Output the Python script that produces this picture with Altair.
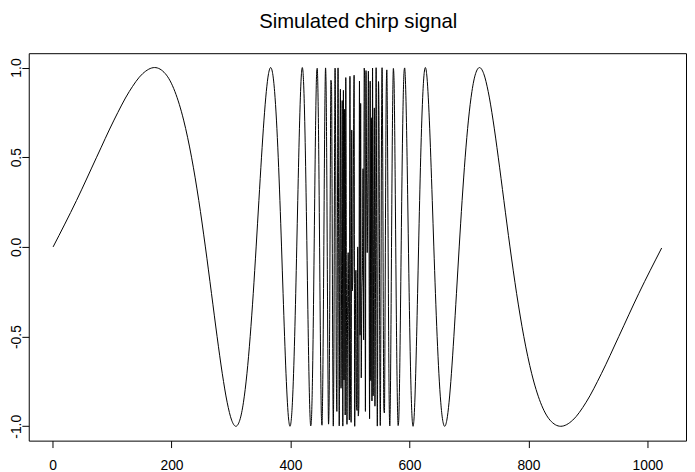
import altair as alt
import pandas as pd

title_text = "Simulated chirp signal"
x_ticks = [0, 200, 400, 600, 800, 1000]
y_ticks = [-1.0, -0.5, 0.0, 0.5, 1.0]

# smooth left part (index, value)
left_index = [1, 40.38, 74.14, 103.4, 129, 151.59, 171.67, 189.63, 205.8, 220.43, 233.73, 245.87,
              257, 267.24, 276.69, 285.44, 293.57, 301.14, 308.2, 314.81, 321, 326.82, 332.29, 337.46,
              342.33, 346.95, 351.32, 355.46, 359.4, 363.15, 366.71, 370.12, 373.36, 376.47, 379.43, 382.28,
              385, 387.61, 390.12, 392.53, 394.85, 397.08, 399.22, 401.29, 403.29, 405.21, 407.07, 408.86,
              410.6, 412.28, 413.9, 415.48, 417, 418.48, 419.91, 421.3]
left_value = [0, 0.259, 0.5, 0.707, 0.866, 0.966, 1, 0.966, 0.866, 0.707, 0.5, 0.259,
              0, -0.259, -0.5, -0.707, -0.866, -0.966, -1, -0.966, -0.866, -0.707, -0.5, -0.259,
              0, 0.259, 0.5, 0.707, 0.866, 0.966, 1, 0.966, 0.866, 0.707, 0.5, 0.259,
              0, -0.259, -0.5, -0.707, -0.866, -0.966, -1, -0.966, -0.866, -0.707, -0.5, -0.259,
              0, 0.259, 0.5, 0.707, 0.866, 0.966, 1, 0.966]

# dense middle part, one value per sample starting at index 422
dense_start = 422
dense_value = [
    0.922, 0.829, 0.700, 0.540, 0.352, 0.144, -0.075, -0.296, -0.507, -0.695,
    -0.847, -0.951, -0.998, -0.980, -0.891, -0.735, -0.517, -0.251, 0.045, 0.344,
    0.617, 0.836, 0.969, 0.996, 0.902, 0.689, 0.375, -0.002, -0.391, -0.726,
    -0.945, -0.994, -0.846, -0.513, -0.052, 0.436, 0.827, 0.998, 0.874, 0.462,
    -0.126, -0.687, -0.988, -0.865, -0.325, 0.402, 0.929, 0.908, 0.284, -0.567,
    -0.999, -0.584, 0.397, 0.997, 0.483, -0.647, -0.917, 0.191, 0.998, -0.008,
    -0.998, 0.217, 0.879, -0.788, -0.105, 0.816, -0.999, 0.873, -0.742, 0.767,
    -0.937, 0.944, -0.142, -0.989, -0.388, -0.032, -0.440, -0.965, 0.951, -0.836,
    -0.978, 0.652, -0.245, -0.128, 0.579, 0.957, -1.000, -0.493, -0.130, -0.881,
    -0.912, 0.000, -0.943, -0.886, 0.925, -0.492, 0.800, -0.730, -0.277, -0.128,
    0.436, -0.519, 0.997, 0.893, -0.917, 0.983, 0.373, -0.032, 0.334, 0.980,
    0.187, -0.958, 0.924, -0.745, 0.720, -0.859, 0.997, -0.830, 0.127, 0.775,
    -0.888, -0.199, 0.999, -0.008, -0.999, -0.177, 0.922, 0.638, -0.493, -0.996,
    -0.387, 0.592, 0.999, 0.560, -0.292, -0.911, -0.926, -0.395, 0.332, 0.868,
    0.987, 0.682, 0.120, -0.467, -0.877, -0.998, -0.824, -0.432, 0.057, 0.518,
    0.849, 0.995, 0.944, 0.724, 0.387, -0.002, -0.379, -0.691, -0.903, -0.996,
    -0.968, -0.834, -0.615, -0.341, -0.041, 0.254, 0.519, 0.737, 0.892, 0.980,
    0.998, 0.951, 0.845, 0.693, 0.505, 0.293, 0.073, -0.147, -0.354, -0.541,
    -0.702, -0.830,
]

# smooth right part (index, value)
right_index = [604.7, 606.09, 607.52, 609, 610.52, 612.1, 613.72, 615.4, 617.14, 618.93, 620.79, 622.71,
               624.71, 626.78, 628.92, 631.15, 633.47, 635.88, 638.39, 641, 643.72, 646.57, 649.53, 652.64,
               655.88, 659.29, 662.85, 666.6, 670.54, 674.68, 679.05, 683.67, 688.54, 693.71, 699.18, 705,
               711.19, 717.8, 724.86, 732.43, 740.56, 749.31, 758.76, 769, 780.13, 792.27, 805.57, 820.2,
               836.37, 854.33, 874.41, 897, 922.6, 951.86, 985.62, 1024]
right_value = [-0.966, -1, -0.966, -0.866, -0.707, -0.5, -0.259, 0, 0.259, 0.5, 0.707, 0.866,
               0.966, 1, 0.966, 0.866, 0.707, 0.5, 0.259, 0, -0.259, -0.5, -0.707, -0.866,
               -0.966, -1, -0.966, -0.866, -0.707, -0.5, -0.259, 0, 0.259, 0.5, 0.707, 0.866,
               0.966, 1, 0.966, 0.866, 0.707, 0.5, 0.259, 0, -0.259, -0.5, -0.707, -0.866,
               -0.966, -1, -0.966, -0.866, -0.707, -0.5, -0.259, -0.006]

dense_index = list(range(dense_start, dense_start + len(dense_value)))
df = pd.DataFrame({
    "index": left_index + dense_index + right_index,
    "value": left_value + dense_value + right_value,
})

FONT = "Liberation Sans"
W, H = 665, 392

line = alt.Chart(df).mark_line(
    color="black", strokeWidth=1, interpolate="monotone"
).encode(
    x=alt.X("index:Q",
            scale=alt.Scale(domain=[-39.92, 1064.92], nice=False, zero=False),
            axis=alt.Axis(values=x_ticks, format="d", title=None, labelAngle=0,
                          labelAlign="center", labelBaseline="alphabetic", labelPadding=22,
                          labelFlush=False, labelOverlap=False)),
    y=alt.Y("value:Q",
            scale=alt.Scale(domain=[-1.08, 1.08], nice=False, zero=False),
            axis=alt.Axis(values=y_ticks, title=None, labelAngle=-90, labelAlign="center",
                          labelBaseline="alphabetic", labelPadding=1.5, labelFlush=False,
                          labelOverlap=False,
                          labelExpr="replace(format(datum.value, '.1f'), '\u2212', '-')")),
)

title = alt.Chart(pd.DataFrame({"t": [title_text]})).mark_text(
    font=FONT, fontSize=20.5, fontWeight="normal", color="black",
    align="center", baseline="alphabetic"
).encode(
    text="t:N",
    x=alt.value(W / 2 + 0.8),
    y=alt.value(-26),
)

chart = alt.layer(line, title).properties(
    width=W,
    height=H,
    autosize=alt.AutoSizeParams(type="none"),
    padding={"left": 21, "top": 43, "right": 1, "bottom": 29},
).configure_view(
    stroke="black", strokeWidth=1
).configure_axis(
    domain=False, grid=False, tickColor="black", tickSize=7, tickWidth=1,
    labelColor="black", labelFont=FONT, labelFontSize=14,
)

chart.save("out.html", embed_options={"renderer": "svg", "actions": False})
